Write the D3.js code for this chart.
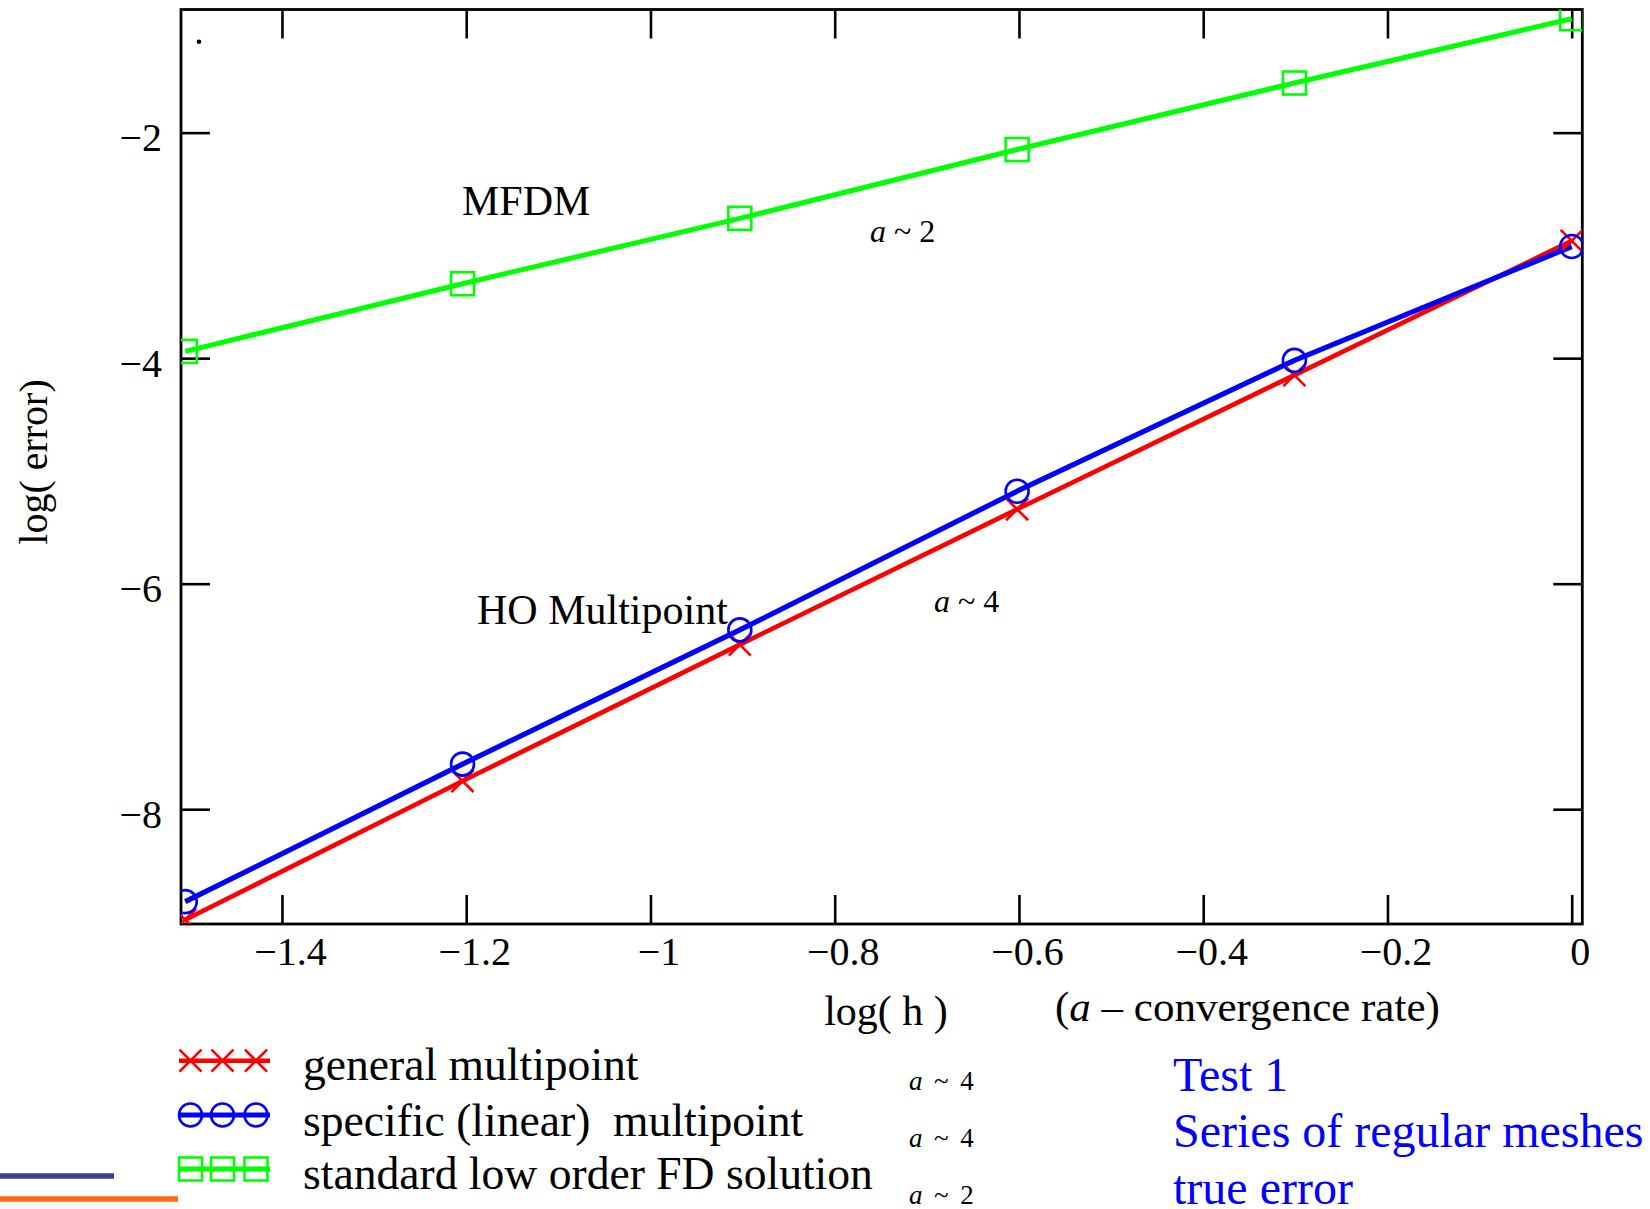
<!DOCTYPE html>
<html>
<head>
<meta charset="utf-8">
<script src="https://cdn.jsdelivr.net/npm/d3@7"></script>
<style>
  html, body { margin: 0; padding: 0; background: #fff; }
  svg { display: block; font-family: "Liberation Serif", "Times New Roman", serif; }
</style>
</head>
<body>
<svg id="chart" width="1650" height="1209"></svg>
<script>
// log10 of mesh size h = 1/32 ... 1
const logH = [-1.505, -1.204, -0.903, -0.602, -0.301, 0];

// log10 of the true error for each method
const generalMultipoint  = [-8.98, -7.75, -6.54, -5.34, -4.15, -2.96];
const specificMultipoint = [-8.82, -7.60, -6.41, -5.18, -4.02, -3.01];
const standardFD         = [-3.94, -3.34, -2.76, -2.15, -1.56, -0.99];

const seriesNames = ["general multipoint", "specific (linear)  multipoint", "standard low order FD solution"];
const seriesRates = ["4", "4", "2"];

const xTicks = [-1.4, -1.2, -1, -0.8, -0.6, -0.4, -0.2, 0];
const xTickLabels = ["\u22121.4", "\u22121.2", "\u22121", "\u22120.8", "\u22120.6", "\u22120.4", "\u22120.2", "0"];
const yTicks = [-2, -4, -6, -8];
const yTickLabels = ["\u22122", "\u22124", "\u22126", "\u22128"];

const svg = d3.select("#chart");
const plot = { left: 181, top: 9.5, right: 1582.3, bottom: 924 };

const x = d3.scaleLinear().domain([-1.5096, 0.0115]).range([plot.left, plot.right]);
const y = d3.scaleLinear().domain([-9.018, -0.908]).range([plot.bottom, plot.top]);

const TICK = 29;
const FONT = "'Liberation Serif', 'Times New Roman', serif";

// clip for the data marks
svg.append("defs").append("clipPath").attr("id", "plotClip")
  .append("rect")
  .attr("x", plot.left).attr("y", plot.top)
  .attr("width", plot.right - plot.left).attr("height", plot.bottom - plot.top);

// ---- axes (ticks point inward on all four sides) ----
const fmtX = d => xTickLabels[xTicks.indexOf(d)];
const fmtY = d => yTickLabels[yTicks.indexOf(d)];

const gBottom = svg.append("g").attr("transform", `translate(0,${plot.bottom})`)
  .call(d3.axisBottom(x).tickValues(xTicks).tickFormat(fmtX).tickSize(-TICK).tickPadding(0));
gBottom.selectAll("text").attr("y", 41).attr("dy", null).attr("dx", 8);

const gTop = svg.append("g").attr("transform", `translate(0,${plot.top})`)
  .call(d3.axisTop(x).tickValues(xTicks).tickFormat("").tickSize(-TICK));

const gLeft = svg.append("g").attr("transform", `translate(${plot.left},0)`)
  .call(d3.axisLeft(y).tickValues(yTicks).tickFormat(fmtY).tickSize(-TICK).tickPadding(0));
gLeft.selectAll("text").attr("x", -19).attr("dy", null).attr("y", 18);

const gRight = svg.append("g").attr("transform", `translate(${plot.right},0)`)
  .call(d3.axisRight(y).tickValues(yTicks).tickFormat("").tickSize(-TICK));

[gBottom, gTop, gLeft, gRight].forEach(g => {
  g.select(".domain").remove();
  g.selectAll(".tick line").attr("stroke", "#000").attr("stroke-width", 2.6);
  g.selectAll("text").attr("font-family", FONT).attr("font-size", 40).attr("fill", "#000");
});

// frame
svg.append("rect")
  .attr("x", plot.left).attr("y", plot.top)
  .attr("width", plot.right - plot.left).attr("height", plot.bottom - plot.top)
  .attr("fill", "none").attr("stroke", "#000").attr("stroke-width", 2.8);

// ---- data ----
const series = [
  { values: generalMultipoint,  color: "#ff0000", marker: "cross",  width: 4.6 },
  { values: specificMultipoint, color: "#0000ff", marker: "circle", width: 5.2 },
  { values: standardFD,         color: "#00ff00", marker: "square", width: 5.0 }
];

const marks = svg.append("g").attr("clip-path", "url(#plotClip)");
const line = d3.line().x(d => x(d[0])).y(d => y(d[1]));

series.forEach(s => {
  marks.append("path")
    .datum(logH.map((h, i) => [h, s.values[i]]))
    .attr("d", line)
    .attr("fill", "none")
    .attr("stroke", s.color)
    .attr("stroke-width", s.width)
    .attr("stroke-linejoin", "round");
});

function drawMarker(g, type, cx, cy, color) {
  if (type === "cross") {
    const r = 11;
    g.append("path")
      .attr("d", `M${cx - r},${cy - r}L${cx + r},${cy + r}M${cx - r},${cy + r}L${cx + r},${cy - r}`)
      .attr("stroke", color).attr("stroke-width", 2.6).attr("fill", "none");
  } else if (type === "circle") {
    g.append("circle").attr("cx", cx).attr("cy", cy).attr("r", 11.5)
      .attr("stroke", color).attr("stroke-width", 2.6).attr("fill", "none");
  } else {
    const r = 11.5;
    g.append("rect").attr("x", cx - r).attr("y", cy - r).attr("width", 2 * r).attr("height", 2 * r)
      .attr("stroke", color).attr("stroke-width", 2.6).attr("fill", "none");
  }
}

series.forEach(s => {
  logH.forEach((h, i) => drawMarker(marks, s.marker, x(h), y(s.values[i]), s.color));
});

// small stray dot near the upper-left corner
svg.append("circle").attr("cx", 199).attr("cy", 41.7).attr("r", 2.3).attr("fill", "#000");

// ---- annotations inside the plot ----
function rateLabel(g, px, py, rate, size, spacing) {
  const t = g.append("text").attr("x", px).attr("y", py)
    .attr("font-family", FONT).attr("font-size", size).attr("fill", "#000")
    .style("letter-spacing", spacing + "px");
  t.append("tspan").attr("font-style", "italic").text("a");
  t.append("tspan").text(" ~ " + rate);
}

svg.append("text").attr("x", 462).attr("y", 215)
  .attr("font-family", FONT).attr("font-size", 42).text("MFDM");
rateLabel(svg, 870, 241.7, "2", 32, 0);

svg.append("text").attr("x", 477).attr("y", 624)
  .attr("font-family", FONT).attr("font-size", 42).text("HO Multipoint");
rateLabel(svg, 934, 612, "4", 32, 0);

// ---- axis titles ----
svg.append("text").attr("x", 886).attr("y", 1025)
  .attr("text-anchor", "middle")
  .attr("font-family", FONT).attr("font-size", 42).text("log( h )");

const conv = svg.append("text").attr("x", 1055).attr("y", 1021)
  .attr("font-family", FONT).attr("font-size", 43);
conv.append("tspan").text("(");
conv.append("tspan").attr("font-style", "italic").text("a");
conv.append("tspan").text(" \u2013 convergence rate)");

svg.append("text")
  .attr("transform", "translate(46.5,462) rotate(-90)")
  .attr("text-anchor", "middle")
  .attr("font-family", FONT).attr("font-size", 40).text("log( error)");

// ---- legend ----
const legendY = [1060.7, 1115, 1169];
const legendTextY = [1080, 1136, 1189];
const legendMarkX = [190.5, 222.5, 256];
const legend = svg.append("g");

series.forEach((s, i) => {
  legend.append("line")
    .attr("x1", 179).attr("x2", 270)
    .attr("y1", legendY[i]).attr("y2", legendY[i])
    .attr("stroke", s.color).attr("stroke-width", s.width);
  legendMarkX.forEach(mx => drawMarker(legend, s.marker, mx, legendY[i], s.color));
  legend.append("text").attr("x", 303).attr("y", legendTextY[i])
    .attr("font-family", FONT).attr("font-size", 45.6)
    .style("white-space", "pre")
    .text(seriesNames[i]);
  rateLabel(legend, 909, [1090, 1146.7, 1204][i], seriesRates[i], 27, 2.4);
});

// test description
const notes = ["Test 1", "Series of regular meshes", "true error"];
const notesY = [1090.7, 1146.7, 1204];
notes.forEach((n, i) => {
  svg.append("text").attr("x", 1173).attr("y", notesY[i])
    .attr("font-family", FONT).attr("font-size", 48).attr("fill", "#0000ff").text(n);
});

// two short coloured strokes at the lower-left edge
svg.append("line").attr("x1", 0).attr("x2", 114).attr("y1", 1176).attr("y2", 1176)
  .attr("stroke", "#3d3d99").attr("stroke-width", 5.6);
svg.append("line").attr("x1", 0).attr("x2", 178).attr("y1", 1199).attr("y2", 1199)
  .attr("stroke", "#ff6a10").attr("stroke-width", 5.6);
</script>
</body>
</html>
